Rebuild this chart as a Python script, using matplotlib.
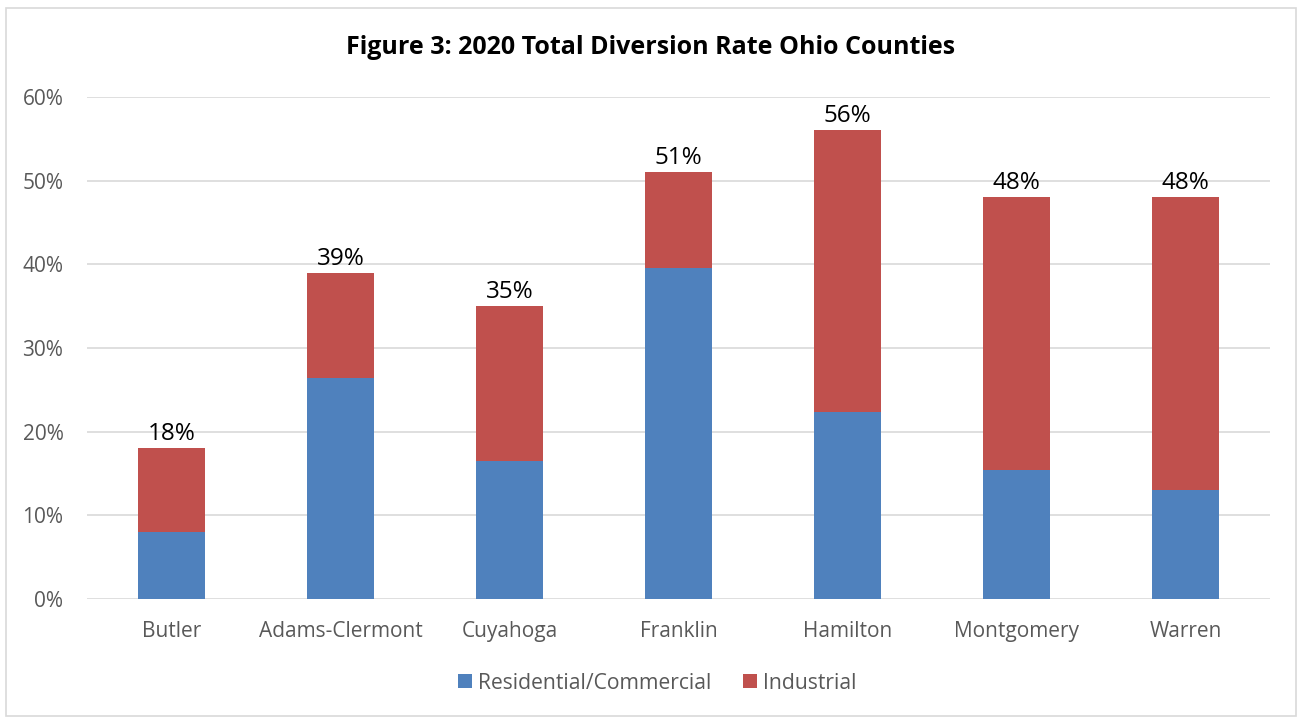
import matplotlib.pyplot as plt
from matplotlib.patches import Rectangle
import numpy as np

plt.rcParams['font.family'] = ['Open Sans', 'DejaVu Sans']

counties = ['Butler', 'Adams-Clermont', 'Cuyahoga', 'Franklin', 'Hamilton', 'Montgomery', 'Warren']
total = [18, 39, 35, 51, 56, 48, 48]
residential = [8.0, 26.4, 16.5, 39.6, 22.3, 15.4, 13.0]
industrial = [t - r for t, r in zip(total, residential)]

BLUE = '#4F81BD'
RED = '#C0504D'
GRAY = '#595959'

fig = plt.figure(figsize=(12.97, 7.17), dpi=100)
# outer chart frame
fig.patches.append(Rectangle((6 / 1297, 1 - 716 / 717), 1290 / 1297, 708 / 717,
                             transform=fig.transFigure, fill=False,
                             edgecolor='#D9D9D9', linewidth=1.2))

ax = fig.add_axes([87 / 1297, 1 - 599 / 717, 1183 / 1297, 502 / 717])
x = np.arange(len(counties))
ax.bar(x, residential, width=0.40, color=BLUE, label='Residential/Commercial', zorder=3)
ax.bar(x, industrial, width=0.40, bottom=residential, color=RED, label='Industrial', zorder=3)

for xi, t in zip(x, total):
    ax.text(xi, t + 0.25, f'{t}%', ha='center', va='bottom', fontsize=17.5, color='black')

ax.set_xlim(-0.5, len(counties) - 0.5)
ax.set_ylim(0, 60)
ax.set_yticks(range(0, 61, 10))
ax.set_yticklabels([f'{v}%' for v in range(0, 61, 10)])
ax.set_xticks(x)
ax.set_xticklabels(counties)
ax.tick_params(axis='both', length=0, labelsize=15, colors=GRAY)
ax.tick_params(axis='x', pad=16)
ax.tick_params(axis='y', pad=17)
ax.grid(axis='y', color='#D9D9D9', linewidth=1.2, zorder=0)
for s in ax.spines.values():
    s.set_visible(False)

fig.text(651 / 1297, 1 - 47 / 717, 'Figure 3: 2020 Total Diversion Rate Ohio Counties',
         ha='center', va='center', fontsize=18, fontweight='bold', color='black')

ax.legend(loc='center', bbox_to_anchor=(0.482, -0.168), ncol=2, frameon=False,
          fontsize=15.2, labelcolor=GRAY, handlelength=0.65, handleheight=0.65,
          handletextpad=0.3, columnspacing=1.5)

fig.savefig('out.png', dpi=100)
